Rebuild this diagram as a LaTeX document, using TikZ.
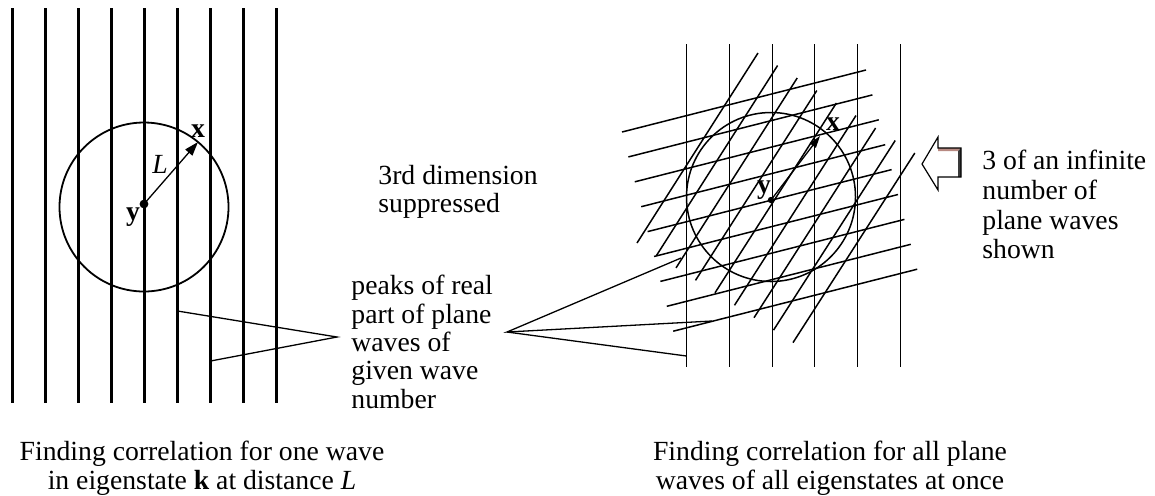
\documentclass[tikz,border=0pt]{standalone}
\usepackage{fontspec}
\setmainfont{Liberation Serif}
\usetikzlibrary{arrows.meta}
\definecolor{arrowtop}{HTML}{B88A82}
\definecolor{arrowside}{HTML}{3A3A3A}
\begin{document}
\begin{tikzpicture}[x=0.5pt,y=-0.5pt,
  thickwave/.style={line width=1.5pt},
  thinwave/.style={line width=0.75pt},
  txt/.style={inner sep=0pt, font=\fontsize{13.85}{14.15}\selectfont},
  lbl/.style={inner sep=0pt, font=\fontsize{13.85}{14.15}\selectfont},
  pointer/.style={line width=0.65pt},
  dotnode/.style={circle, fill=black, inner sep=0pt, minimum size=#1},
  ring/.style={circle, draw, inner sep=0pt, minimum size=84.5pt},
  vecL/.style={line width=0.65pt, -{Triangle[length=7pt,width=4.6pt]}},
  vecR/.style={line width=0.65pt, -{Triangle[length=6pt,width=3.8pt]}},
]
\useasboundingbox (0,0) rectangle (1155,495);

% ---------- left panel ----------
\foreach \xx in {12.5,45.5,78.5,111.5,144.5,177.5,210.5,243.5,276.5}
  \draw[thickwave] (\xx,8) -- (\xx,403);
\node[ring, line width=0.9pt] (circL) at (144,207) {};
\node[dotnode=4.4pt] (yL) at (144,204) {};
\coordinate (xL) at (198,142);
\draw[vecL] (yL.center) -- (xL);
\node[lbl, anchor=base] (xlabL) at (198,137) {\textbf{x}};
\node[lbl, anchor=base] (LlabL) at (160,173) {\textit{L}};
\node[lbl, anchor=base] (ylabL) at (133,220) {\textbf{y}};

% ---------- right panel ----------
\foreach \xx in {686.5,729.5,772.5,814.5,857.5,900.5}
  \draw[thinwave] (\xx,44) -- (\xx,367);
\foreach \i in {0,...,8}
  \draw[thinwave] ({622+6.4*\i},{132+24.9*\i}) -- ({866+6.4*\i},{70+24.9*\i});
\foreach \i in {0,...,8}
  \draw[thinwave] ({637+19.5*\i},{243+12.45*\i}) -- ({758+19.6*\i},{53+12.5*\i});
\node[ring, line width=0.75pt] (circR) at (771,197) {};
\node[dotnode=3.2pt] (yR) at (771,200) {};
\coordinate (xR) at (820,136);
\draw[vecR] (yR.center) -- (xR);
\node[lbl, anchor=base] (xlabR) at (833,130) {\textbf{x}};
\node[lbl, anchor=base] (ylabR) at (764,193) {\textbf{y}};

% block arrow
\fill[white] (922,164) -- (938,137) -- (938,148) -- (961,148) -- (961,177) -- (938,177) -- (938,190) -- cycle;
\fill[arrowtop] (938,148) -- (961,148) -- (958,151) -- (938,151) -- cycle;
\fill[arrowside] (958,151) -- (961,148) -- (961,177) -- (958,177) -- cycle;
\draw[line width=0.6pt, line join=miter] (922,164) -- (938,137) -- (938,148) -- (961,148) -- (961,177) -- (938,177) -- (938,190) -- cycle;

% ---------- texts ----------
\node[txt, anchor=north west, align=left] (dim) at (378,165) {3rd dimension\\suppressed};
\node[txt, anchor=north west, align=left] (peaks) at (351,275) {peaks of real\\part of plane\\waves of\\given wave\\number};
\node[txt, anchor=north west, align=left, font=\fontsize{13.85}{14.8}\selectfont] (inf) at (982,150) {3 of an infinite\\number of\\plane waves\\shown};
\node[txt, anchor=north, align=center, font=\fontsize{13.85}{14.5}\selectfont] (capL) at (202,441) {Finding correlation for one wave\\in eigenstate \textbf{k} at distance \textit{L}};
\node[txt, anchor=north, align=center, font=\fontsize{13.85}{14.5}\selectfont] (capR) at (830,441) {Finding correlation for all plane\\waves of all eigenstates at once};

% ---------- pointers ----------
\coordinate (pl) at (337,337);
\coordinate (pr) at (507,332);
\coordinate (tl1) at (177.5,311);
\coordinate (tl2) at (210.5,361);
\coordinate (tr1) at (681,258);
\coordinate (tr2) at (712,321);
\coordinate (tr3) at (686.5,356);
\draw[pointer] (tl1) -- (pl) -- (tl2);
\draw[pointer] (tr1) -- (pr) -- (tr2);
\draw[pointer] (pr) -- (tr3);
\end{tikzpicture}
\end{document}
